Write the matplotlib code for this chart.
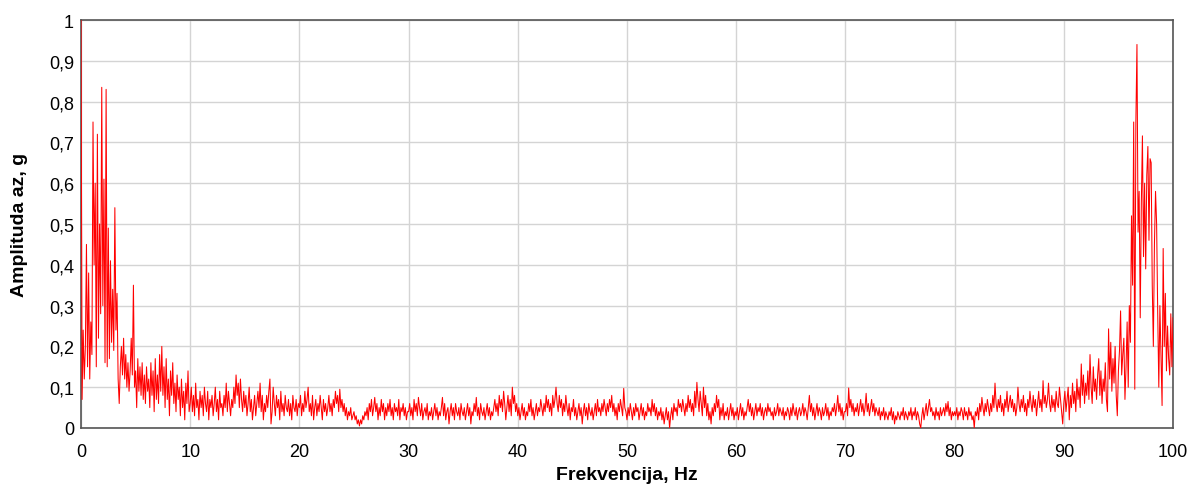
import numpy as np
import matplotlib
matplotlib.use("Agg")
import matplotlib.pyplot as plt
from matplotlib.ticker import FuncFormatter

# Amplitude spectrum, 0.1 Hz resolution
amp_00_10 = [1.00,0.07,0.24,0.12,0.20,0.45,0.15,0.38,0.12,0.26,
             0.18,0.75,0.40,0.60,0.15,0.72,0.22,0.50,0.28,0.835,
             0.30,0.61,0.16,0.83,0.15,0.49,0.17,0.41,0.21,0.34,
             0.19,0.54,0.24,0.33,0.12,0.06,0.15,0.20,0.13,0.22,
             0.12,0.18,0.10,0.16,0.09,0.14,0.22,0.13,0.35,0.10,
             0.14,0.05,0.17,0.09,0.15,0.08,0.16,0.07,0.13,0.06,
             0.15,0.09,0.12,0.05,0.16,0.08,0.14,0.04,0.17,0.07,
             0.13,0.06,0.18,0.09,0.20,0.08,0.15,0.05,0.17,0.07,
             0.12,0.03,0.14,0.08,0.16,0.06,0.11,0.04,0.13,0.07,
             0.10,0.03,0.12,0.05,0.09,0.02,0.11,0.06,0.14,0.04]
amp_10_20 = [0.06,0.10,0.04,0.08,0.03,0.11,0.05,0.07,0.02,0.09,
             0.05,0.08,0.03,0.10,0.06,0.04,0.09,0.02,0.07,0.05,
             0.08,0.03,0.06,0.10,0.04,0.07,0.02,0.09,0.05,0.06,
             0.03,0.08,0.05,0.11,0.04,0.09,0.06,0.03,0.07,0.05,
             0.10,0.06,0.13,0.08,0.11,0.05,0.12,0.07,0.04,0.09,
             0.05,0.08,0.03,0.06,0.10,0.04,0.07,0.02,0.05,0.08,
             0.03,0.06,0.09,0.05,0.11,0.04,0.08,0.02,0.06,0.04,
             0.08,0.05,0.09,0.12,0.01,0.04,0.10,0.06,0.03,0.08,
             0.05,0.07,0.02,0.09,0.04,0.06,0.03,0.08,0.05,0.04,
             0.07,0.03,0.06,0.02,0.08,0.05,0.04,0.07,0.03,0.06]
amp_20_30 = [0.05,0.08,0.03,0.06,0.04,0.09,0.05,0.07,0.10,0.04,
             0.06,0.03,0.08,0.02,0.05,0.07,0.03,0.06,0.04,0.08,
             0.05,0.02,0.07,0.04,0.06,0.03,0.05,0.08,0.04,0.06,
             0.03,0.07,0.05,0.09,0.06,0.08,0.04,0.095,0.05,0.07,
             0.04,0.06,0.03,0.05,0.02,0.04,0.03,0.05,0.02,0.03,
             0.04,0.02,0.03,0.01,0.02,0.005,0.02,0.01,0.03,0.02,
             0.04,0.03,0.05,0.02,0.06,0.04,0.07,0.03,0.05,0.075,
             0.04,0.06,0.02,0.05,0.03,0.07,0.04,0.06,0.02,0.05,
             0.03,0.06,0.04,0.07,0.03,0.05,0.02,0.06,0.04,0.05,
             0.03,0.07,0.02,0.05,0.04,0.06,0.03,0.05,0.02,0.04]
amp_30_40 = [0.04,0.06,0.03,0.05,0.02,0.07,0.04,0.06,0.03,0.075,
             0.05,0.03,0.06,0.02,0.04,0.05,0.03,0.06,0.02,0.04,
             0.03,0.05,0.02,0.04,0.06,0.03,0.05,0.02,0.04,0.03,
             0.05,0.075,0.03,0.06,0.02,0.04,0.05,0.01,0.04,0.06,
             0.03,0.05,0.02,0.06,0.04,0.03,0.05,0.02,0.06,0.04,
             0.03,0.05,0.02,0.04,0.06,0.03,0.05,0.01,0.04,0.03,
             0.06,0.04,0.075,0.03,0.05,0.02,0.06,0.04,0.03,0.05,
             0.02,0.04,0.06,0.03,0.05,0.02,0.04,0.03,0.05,0.07,
             0.04,0.06,0.03,0.08,0.05,0.07,0.04,0.09,0.06,0.02,
             0.05,0.08,0.04,0.07,0.03,0.10,0.06,0.08,0.04,0.06]
amp_40_50 = [0.03,0.05,0.02,0.04,0.06,0.03,0.05,0.02,0.04,0.03,
             0.06,0.04,0.07,0.03,0.05,0.02,0.04,0.06,0.03,0.05,
             0.04,0.07,0.05,0.03,0.06,0.04,0.08,0.05,0.07,0.04,
             0.06,0.03,0.08,0.05,0.07,0.10,0.06,0.04,0.08,0.05,
             0.07,0.03,0.06,0.04,0.08,0.05,0.03,0.06,0.02,0.05,
             0.04,0.07,0.03,0.05,0.02,0.04,0.06,0.03,0.05,0.01,
             0.04,0.06,0.03,0.05,0.02,0.06,0.04,0.03,0.05,0.02,
             0.04,0.06,0.03,0.07,0.04,0.05,0.03,0.06,0.04,0.07,
             0.05,0.03,0.06,0.04,0.07,0.05,0.08,0.04,0.06,0.03,
             0.05,0.02,0.06,0.04,0.07,0.05,0.03,0.097,0.05,0.04]
amp_50_60 = [0.02,0.05,0.03,0.06,0.04,0.02,0.05,0.03,0.06,0.04,
             0.05,0.02,0.04,0.06,0.03,0.05,0.02,0.04,0.03,0.06,
             0.04,0.05,0.03,0.07,0.04,0.06,0.03,0.05,0.02,0.04,
             0.03,0.05,0.02,0.04,0.01,0.03,0.05,0.02,0.04,0.00,
             0.03,0.05,0.02,0.06,0.04,0.05,0.03,0.07,0.05,0.06,
             0.04,0.07,0.05,0.03,0.06,0.04,0.08,0.05,0.07,0.04,
             0.06,0.03,0.09,0.05,0.112,0.07,0.04,0.09,0.06,0.03,
             0.10,0.05,0.08,0.03,0.06,0.02,0.04,0.01,0.05,0.03,
             0.06,0.04,0.08,0.05,0.07,0.02,0.05,0.03,0.06,0.02,
             0.04,0.03,0.05,0.02,0.04,0.06,0.03,0.05,0.02,0.04]
amp_60_70 = [0.03,0.05,0.02,0.04,0.06,0.03,0.05,0.02,0.04,0.03,
             0.05,0.07,0.04,0.06,0.03,0.05,0.02,0.04,0.06,0.03,
             0.05,0.04,0.06,0.03,0.05,0.02,0.04,0.05,0.03,0.06,
             0.04,0.05,0.03,0.04,0.02,0.05,0.03,0.04,0.06,0.03,
             0.05,0.04,0.03,0.05,0.02,0.04,0.03,0.05,0.04,0.02,
             0.05,0.03,0.06,0.04,0.03,0.05,0.02,0.04,0.05,0.03,
             0.04,0.06,0.03,0.05,0.04,0.02,0.05,0.08,0.04,0.06,
             0.03,0.05,0.02,0.04,0.06,0.03,0.05,0.04,0.02,0.05,
             0.03,0.04,0.06,0.03,0.05,0.02,0.04,0.03,0.05,0.04,
             0.06,0.03,0.05,0.08,0.04,0.06,0.03,0.05,0.02,0.04]
amp_70_80 = [0.04,0.06,0.03,0.098,0.05,0.07,0.04,0.06,0.03,0.05,
             0.04,0.06,0.03,0.05,0.07,0.04,0.06,0.03,0.05,0.085,
             0.04,0.06,0.03,0.05,0.07,0.04,0.06,0.03,0.05,0.04,
             0.03,0.05,0.02,0.04,0.03,0.05,0.02,0.04,0.03,0.02,
             0.04,0.03,0.05,0.02,0.04,0.01,0.03,0.02,0.04,0.03,
             0.02,0.04,0.03,0.05,0.02,0.04,0.03,0.02,0.04,0.03,
             0.05,0.02,0.04,0.03,0.05,0.02,0.04,0.03,0.01,0.00,
             0.03,0.05,0.02,0.04,0.06,0.03,0.05,0.07,0.04,0.05,
             0.03,0.04,0.02,0.05,0.03,0.04,0.02,0.05,0.03,0.04,
             0.05,0.03,0.06,0.04,0.065,0.03,0.05,0.02,0.04,0.03]
amp_80_90 = [0.04,0.03,0.05,0.02,0.04,0.03,0.05,0.04,0.02,0.05,
             0.03,0.04,0.02,0.05,0.03,0.04,0.02,0.03,0.00,0.04,
             0.03,0.05,0.02,0.06,0.04,0.075,0.05,0.03,0.06,0.04,
             0.07,0.05,0.03,0.06,0.04,0.08,0.05,0.11,0.06,0.04,
             0.07,0.05,0.08,0.04,0.06,0.03,0.07,0.05,0.09,0.04,
             0.06,0.08,0.05,0.07,0.04,0.06,0.03,0.05,0.10,0.06,
             0.04,0.07,0.05,0.08,0.04,0.06,0.03,0.07,0.05,0.09,
             0.06,0.04,0.08,0.05,0.07,0.03,0.06,0.09,0.05,0.07,
             0.04,0.116,0.06,0.08,0.05,0.07,0.11,0.06,0.04,0.08,
             0.05,0.07,0.04,0.09,0.06,0.05,0.10,0.07,0.04,0.01]
amp_90_100 = [0.06,0.09,0.04,0.07,0.10,0.02,0.08,0.05,0.11,0.06,
              0.09,0.04,0.12,0.07,0.10,0.05,0.157,0.08,0.13,0.06,
              0.11,0.08,0.14,0.07,0.18,0.10,0.06,0.15,0.09,0.12,
              0.07,0.13,0.17,0.08,0.14,0.06,0.12,0.09,0.16,0.07,
              0.04,0.243,0.12,0.21,0.09,0.17,0.11,0.20,0.08,0.03,
              0.14,0.19,0.287,0.13,0.18,0.22,0.07,0.15,0.26,0.10,
              0.30,0.21,0.52,0.35,0.75,0.095,0.75,0.94,0.48,0.58,
              0.27,0.55,0.716,0.42,0.60,0.39,0.62,0.69,0.46,0.66,
              0.65,0.35,0.20,0.45,0.58,0.50,0.28,0.10,0.30,0.18,
              0.055,0.44,0.20,0.33,0.14,0.25,0.17,0.13,0.28,0.15,
              0.27]

amplitude = np.array(amp_00_10 + amp_10_20 + amp_20_30 + amp_30_40 + amp_40_50 +
                     amp_50_60 + amp_60_70 + amp_70_80 + amp_80_90 + amp_90_100)
freq = np.linspace(0, 100, len(amplitude))

x_ticks = list(range(0, 101, 10))
y_ticks = [i / 10 for i in range(0, 11)]
x_label = "Frekvencija, Hz"
y_label = "Amplituda az, g"

plt.rcParams['font.family'] = ['Liberation Sans', 'DejaVu Sans']

fig = plt.figure(figsize=(11.96, 4.89), dpi=100)
ax = fig.add_axes([81/1196, 60/489, (1173-81)/1196, (429-21)/489])

ax.plot(freq, amplitude, color='#ff0000', lw=0.75, zorder=3)

ax.set_xlim(0, 100)
ax.set_ylim(0, 1)
ax.set_xticks(x_ticks)
ax.set_yticks(y_ticks)

def comma_fmt(v, pos):
    s = f"{v:.1f}".rstrip('0').rstrip('.')
    return s.replace('.', ',')

ax.yaxis.set_major_formatter(FuncFormatter(comma_fmt))
ax.xaxis.set_major_formatter(FuncFormatter(lambda v, p: f"{int(v)}"))
ax.tick_params(axis='both', length=0, labelsize=13, colors='#000000')
ax.tick_params(axis='x', pad=11)
ax.tick_params(axis='y', pad=5)

ax.grid(True, color='#d4d4d4', lw=1.0, zorder=0)
ax.set_axisbelow(True)
for sp in ax.spines.values():
    sp.set_color('#555555')
    sp.set_linewidth(1.2)

ax.set_xlabel(x_label, fontsize=14, fontweight='bold')
ax.xaxis.set_label_coords(0.5, (429 - 467) / 408)
ax.set_ylabel(y_label, fontsize=14, fontweight='bold')
ax.yaxis.set_label_coords((28 - 81) / 1092, 0.5)

fig.savefig("out.png", dpi=100)
